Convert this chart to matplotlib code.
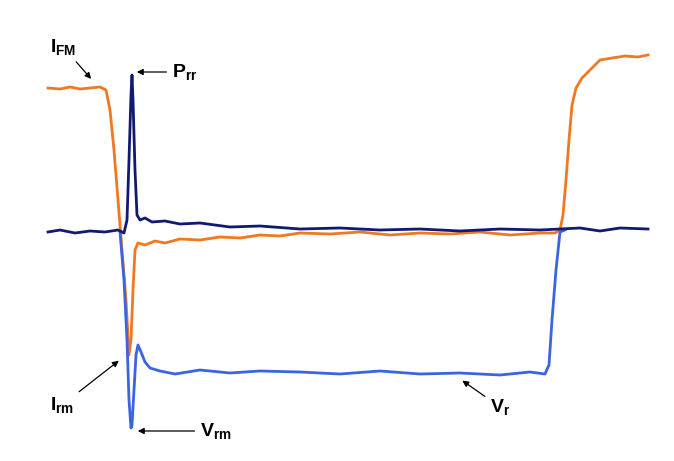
import matplotlib.pyplot as plt

plt.rcParams['font.family'] = ['Liberation Sans', 'DejaVu Sans']
plt.rcParams['mathtext.default'] = 'regular'

# current trace I (orange), screen coordinates
i_x = [48, 60, 70, 80, 90, 100, 106, 110, 114, 118, 122, 126, 129, 131, 133, 135, 138,
       145, 155, 165, 180, 200, 220, 240, 260, 280, 300, 330, 360, 390, 420, 450, 480,
       510, 540, 555, 560, 563, 566, 569, 572, 576, 582, 590, 600, 612, 625, 638, 648]
i_y = [88, 89, 87, 89, 88, 87, 90, 110, 150, 200, 250, 300, 355, 340, 290, 250, 243,
       245, 241, 243, 239, 240, 237, 238, 235, 236, 233, 234, 232, 235, 233, 234, 232,
       235, 233, 233, 230, 215, 180, 140, 105, 88, 78, 70, 60, 58, 56, 57, 55]

# power trace P (dark navy)
p_x = [48, 60, 75, 90, 105, 118, 124, 127, 129, 131, 132, 133, 135, 137, 140, 145, 152,
       165, 180, 200, 230, 260, 300, 340, 380, 420, 460, 500, 540, 560, 580, 600, 620, 648]
p_y = [232, 230, 233, 231, 232, 230, 233, 220, 160, 95, 75, 100, 170, 215, 220, 218, 222,
       221, 224, 223, 227, 226, 229, 228, 230, 229, 231, 229, 230, 229, 228, 231, 228, 229]

# voltage trace V (blue)
v_x = [120, 124, 127, 129, 131, 132, 134, 136, 138, 141, 145, 150, 160, 175, 200, 230,
       260, 300, 340, 380, 420, 460, 500, 530, 545, 549, 552, 556, 560, 565]
v_y = [232, 280, 340, 400, 428, 425, 390, 355, 345, 352, 362, 368, 371, 374, 370, 373,
       371, 372, 374, 371, 374, 373, 375, 372, 374, 365, 320, 270, 232, 230]

fig = plt.figure(figsize=(6.74, 4.61), dpi=100)
ax = fig.add_axes([0, 0, 1, 1])
ax.set_xlim(0, 674)
ax.set_ylim(461, 0)
ax.axis('off')

ax.plot(i_x, i_y, color='#f07820', lw=2)
ax.plot(v_x, v_y, color='#3a64e0', lw=2)
ax.plot(p_x, p_y, color='#101a70', lw=2)

arr = dict(arrowstyle='-|>', color='black', lw=0.9, mutation_scale=9)
fs = 14
ax.annotate(r'I$_{FM}$', xy=(93, 81), xytext=(50, 52), fontsize=fs, fontweight='bold',
            arrowprops=arr)
ax.annotate(r'P$_{rr}$', xy=(134, 72), xytext=(172, 72), fontsize=fs, fontweight='bold',
            va='center', arrowprops=arr)
ax.annotate(r'I$_{rm}$', xy=(121, 359), xytext=(50, 410), fontsize=fs, fontweight='bold',
            arrowprops=arr)
ax.annotate(r'V$_{rm}$', xy=(135, 431), xytext=(200, 431), fontsize=fs, fontweight='bold',
            va='center', arrowprops=arr)
ax.annotate(r'V$_{r}$', xy=(460, 379), xytext=(490, 412), fontsize=fs, fontweight='bold',
            arrowprops=arr)

fig.savefig('out.png', dpi=100)
